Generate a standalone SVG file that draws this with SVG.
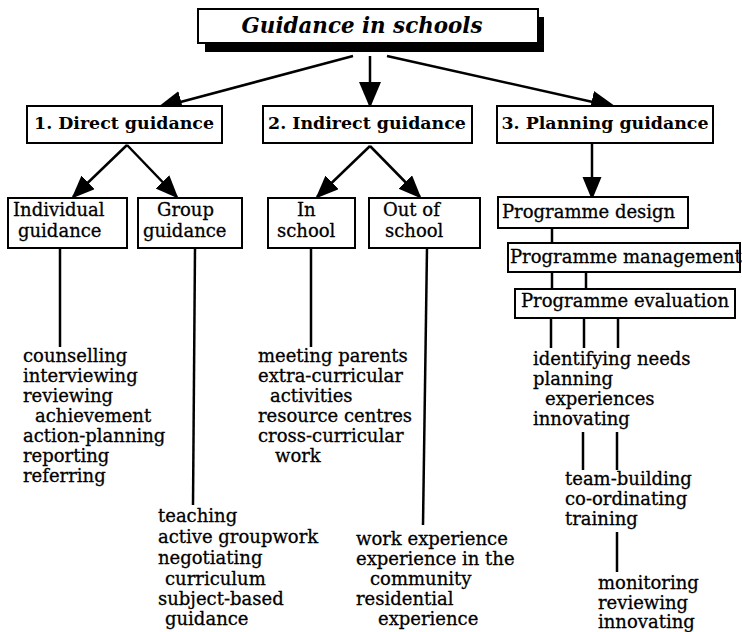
<svg xmlns="http://www.w3.org/2000/svg" width="742" height="632" viewBox="0 0 742 632">
  <style>
    .box { fill: #fff; stroke: #000; stroke-width: 2; }
    .shadow { fill: #000; }
    .line { stroke: #000; stroke-width: 2.5; fill: none; }
    .t { font-family: "DejaVu Serif", "Liberation Serif", serif; font-size: 18px; fill: #000; stroke: #000; stroke-width: 0.3; }
    .hd { font-family: "DejaVu Serif", "Liberation Serif", serif; font-size: 17.4px; font-weight: bold; fill: #000; }
    .title { font-family: "DejaVu Serif", "Liberation Serif", serif; font-size: 21.4px; font-weight: bold; font-style: italic; fill: #000; }
  </style>
  <defs>
    <marker id="bigArrow" markerUnits="userSpaceOnUse" markerWidth="30" markerHeight="24" refX="24" refY="11" orient="auto">
      <path d="M0,0 L26,11 L0,22 Z" fill="#000"/>
    </marker>
    <marker id="arrow" markerUnits="userSpaceOnUse" markerWidth="26" markerHeight="22" refX="21" refY="9.5" orient="auto">
      <path d="M0,0 L23,9.5 L0,19 Z" fill="#000"/>
    </marker>
  </defs>
  <rect width="742" height="632" fill="#fff"/>

  <!-- connectors -->
  <g id="connectors">
    <line class="line" x1="353" y1="56" x2="158" y2="108" marker-end="url(#bigArrow)"/>
    <line class="line" x1="370" y1="56" x2="370" y2="106" marker-end="url(#bigArrow)"/>
    <line class="line" x1="387" y1="56" x2="615" y2="107" marker-end="url(#bigArrow)"/>

    <line class="line" x1="127" y1="145" x2="73" y2="197" marker-end="url(#arrow)"/>
    <line class="line" x1="127" y1="145" x2="177" y2="197" marker-end="url(#arrow)"/>
    <line class="line" x1="370" y1="146" x2="317" y2="197" marker-end="url(#arrow)"/>
    <line class="line" x1="370" y1="146" x2="420" y2="197" marker-end="url(#arrow)"/>
    <line class="line" x1="592" y1="143" x2="592" y2="198" marker-end="url(#arrow)"/>

    <line class="line" x1="60" y1="248" x2="60" y2="347"/>
    <line class="line" x1="195" y1="248" x2="193" y2="505"/>
    <line class="line" x1="311" y1="248" x2="311" y2="347"/>
    <line class="line" x1="427" y1="248" x2="423" y2="525"/>

    <line class="line" x1="552" y1="228" x2="552" y2="243"/>
    <line class="line" x1="552" y1="272" x2="552" y2="289"/>
    <line class="line" x1="586" y1="272" x2="586" y2="289"/>
    <line class="line" x1="551" y1="318" x2="551" y2="348"/>
    <line class="line" x1="584" y1="318" x2="584" y2="348"/>
    <line class="line" x1="618" y1="318" x2="618" y2="348"/>
    <line class="line" x1="583" y1="432" x2="583" y2="470"/>
    <line class="line" x1="617" y1="432" x2="617" y2="470"/>
    <line class="line" x1="617" y1="532" x2="617" y2="572"/>
  </g>

  <!-- top node -->
  <g id="guidance-in-schools">
    <rect class="shadow" x="205" y="17" width="339" height="35"/>
    <rect class="box" x="198" y="9" width="340" height="34"/>
    <text class="title" x="362" y="33" text-anchor="middle">Guidance in schools</text>
  </g>

  <!-- three kinds of guidance -->
  <g id="direct-guidance">
    <rect class="box" x="27" y="106" width="195" height="37"/>
    <text class="hd" x="124" y="129" text-anchor="middle">1. Direct guidance</text>
  </g>
  <g id="indirect-guidance">
    <rect class="box" x="263" y="106" width="209" height="37"/>
    <text class="hd" x="367" y="129" text-anchor="middle">2. Indirect guidance</text>
  </g>
  <g id="planning-guidance">
    <rect class="box" x="497" y="106" width="216" height="37"/>
    <text class="hd" x="605" y="129" text-anchor="middle">3. Planning guidance</text>
  </g>

  <!-- direct guidance branches -->
  <g id="individual-guidance">
    <rect class="box" x="8" y="198" width="119" height="50"/>
    <text class="t" x="13" y="216">Individual</text>
    <text class="t" x="18" y="237">guidance</text>
  </g>
  <g id="group-guidance">
    <rect class="box" x="138" y="198" width="104" height="50"/>
    <text class="t" x="157" y="216">Group</text>
    <text class="t" x="143" y="237">guidance</text>
  </g>

  <!-- indirect guidance branches -->
  <g id="in-school">
    <rect class="box" x="268" y="198" width="87" height="50"/>
    <text class="t" x="297" y="216">In</text>
    <text class="t" x="277" y="237">school</text>
  </g>
  <g id="out-of-school">
    <rect class="box" x="369" y="198" width="111" height="50"/>
    <text class="t" x="383" y="216">Out of</text>
    <text class="t" x="385" y="237">school</text>
  </g>

  <!-- programme stages -->
  <g id="programme-design">
    <rect class="box" x="498" y="197" width="190" height="31"/>
    <text class="t" x="502" y="218">Programme design</text>
  </g>
  <g id="programme-management">
    <rect class="box" x="508" y="243" width="232" height="29"/>
    <text class="t" x="510" y="263">Programme management</text>
  </g>
  <g id="programme-evaluation">
    <rect class="box" x="515" y="289" width="220" height="29"/>
    <text class="t" x="521" y="307">Programme evaluation</text>
  </g>

  <!-- activity lists -->
  <g id="individual-activities" class="t">
    <text x="23" y="362">counselling</text>
    <text x="23" y="382">interviewing</text>
    <text x="23" y="402">reviewing</text>
    <text x="35" y="422">achievement</text>
    <text x="23" y="442">action-planning</text>
    <text x="23" y="462">reporting</text>
    <text x="23" y="482">referring</text>
  </g>
  <g id="group-activities" class="t">
    <text x="158" y="522">teaching</text>
    <text x="158" y="543">active groupwork</text>
    <text x="158" y="564">negotiating</text>
    <text x="165" y="585">curriculum</text>
    <text x="158" y="605">subject-based</text>
    <text x="165" y="625">guidance</text>
  </g>
  <g id="in-school-activities" class="t">
    <text x="258" y="362">meeting parents</text>
    <text x="258" y="382">extra-curricular</text>
    <text x="270" y="402">activities</text>
    <text x="258" y="422">resource centres</text>
    <text x="258" y="442">cross-curricular</text>
    <text x="275" y="462">work</text>
  </g>
  <g id="out-of-school-activities" class="t">
    <text x="356" y="545">work experience</text>
    <text x="356" y="565">experience in the</text>
    <text x="370" y="585">community</text>
    <text x="356" y="605">residential</text>
    <text x="378" y="625">experience</text>
  </g>
  <g id="design-activities" class="t">
    <text x="533" y="365">identifying needs</text>
    <text x="533" y="385">planning</text>
    <text x="545" y="405">experiences</text>
    <text x="533" y="425">innovating</text>
  </g>
  <g id="management-activities" class="t">
    <text x="565" y="485">team-building</text>
    <text x="565" y="505">co-ordinating</text>
    <text x="565" y="525">training</text>
  </g>
  <g id="evaluation-activities" class="t">
    <text x="598" y="589">monitoring</text>
    <text x="598" y="609">reviewing</text>
    <text x="598" y="628">innovating</text>
  </g>
</svg>
